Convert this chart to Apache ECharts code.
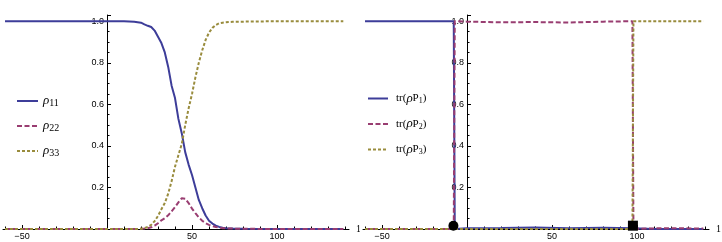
<!DOCTYPE html>
<html>
<head>
<meta charset="utf-8">
<script src="https://cdn.jsdelivr.net/npm/echarts@6/dist/echarts.min.js"></script>
<style>
  html, body { margin: 0; padding: 0; background: #fff; }
  #wrap { position: relative; width: 722px; height: 242px; overflow: hidden; background: #fff; }
  #left { position: absolute; left: 0; top: 0; width: 360px; height: 242px; overflow: hidden; }
  #right { position: absolute; left: 360px; top: 0; width: 362px; height: 242px; overflow: hidden; }
</style>
</head>
<body>
<div id="wrap"><div id="left"></div><div id="right"></div></div>
<script>
// ---------- Data ----------
const xLeft = [-60, -40, -20, 0, 10, 16, 20,
  22, 24, 26, 28, 30, 32, 34, 36, 38, 40, 42, 44, 46, 48, 50, 52, 54, 56, 58, 60, 62, 64, 66, 68, 70,
  74, 80, 100, 120, 139];
const rho11 = [1, 1, 1, 1, 1, 0.998, 0.993,
  0.985, 0.978, 0.972, 0.955, 0.925, 0.895, 0.85, 0.78, 0.69, 0.63, 0.53, 0.46, 0.37, 0.31, 0.26, 0.2, 0.14, 0.1, 0.065, 0.04, 0.026, 0.016, 0.01, 0.006, 0.004,
  0.002, 0.001, 0, 0, 0];
const rho22 = [0, 0, 0, 0, 0, 0, 0.001,
  0.002, 0.004, 0.008, 0.016, 0.028, 0.042, 0.052, 0.066, 0.085, 0.105, 0.128, 0.148, 0.146, 0.125, 0.098, 0.076, 0.056, 0.04, 0.028, 0.02, 0.014, 0.01, 0.007, 0.004, 0.003,
  0.002, 0.001, 0, 0, 0];
const rho33 = [0, 0, 0, 0, 0, 0, 0.001,
  0.004, 0.01, 0.02, 0.038, 0.063, 0.095, 0.125, 0.17, 0.23, 0.3, 0.355, 0.41, 0.5, 0.58, 0.65, 0.73, 0.8, 0.86, 0.91, 0.945, 0.968, 0.982, 0.99, 0.993, 0.995,
  0.997, 0.998, 1, 1, 1];

const xRight = [-60, -20, -7.8, -7.2, 0, 20, 40, 60, 80, 97.3, 97.9, 110, 125, 139];
const trP1 = [1, 1, 1, 0, 0.004, 0.005, 0.007, 0.004, 0.006, 0.004, 0, 0, 0, 0];
const trP2 = [0, 0, 0, 1, 0.998, 0.995, 0.996, 0.994, 0.998, 1, 0, 0.003, 0.004, 0.002];
const trP3 = [0, 0, 0, 0, 0, 0, 0, 0, 0, 0, 1, 1, 1, 1];

const markerX = [-8, 97.6];
const markerY = [0.016, 0.016];
const markerShapes = ['circle', 'rect'];

const namesLeft = ['ρ11', 'ρ22', 'ρ33'];
const namesRight = ['tr(ρP1)', 'tr(ρP2)', 'tr(ρP3)'];
const xAxisName = '1';

const xLabelTicks = [-50, 50, 100];
const xMajorTicks = [-50, 0, 50, 100];
const xMinorTicks = [-60, -40, -30, -20, -10, 10, 20, 30, 40, 60, 70, 80, 90, 110, 120, 130, 140];

// ---------- Styling ----------
const COLORS = ['#3d3d99', '#993d71', '#998c3d'];
const DASHES = ['solid', [5, 2.5], [3, 2]];
const SERIF = '"Liberation Serif", "DejaVu Serif", serif';
const SANS = '"Liberation Sans", Arial, sans-serif';
const X_MIN = -61.18, X_MAX = 142.35;

function zip(xs, ys) { return xs.map((x, i) => [x, ys[i]]); }

function axes() {
  return {
    xAxis: [{
      type: 'value', min: X_MIN, max: X_MAX, position: 'bottom',
      name: xAxisName, nameLocation: 'end', nameGap: 7,
      nameTextStyle: { fontFamily: SERIF, fontSize: 10, color: '#000', verticalAlign: 'middle' },
      axisLine: { show: true, onZero: false, lineStyle: { color: '#000', width: 1 } },
      axisTick: { show: true, inside: true, length: 4, customValues: xMajorTicks, lineStyle: { color: '#000' } },
      minorTick: { show: false },
      axisLabel: { show: true, margin: 3, customValues: xLabelTicks,
        fontFamily: SANS, fontSize: 9, color: '#000',
        formatter: v => String(v).replace('-', '\u2212') },
      splitLine: { show: false }
    }, {
      type: 'value', min: X_MIN, max: X_MAX, position: 'bottom',
      axisLine: { show: false, onZero: false },
      axisTick: { show: true, inside: true, length: 2.5, customValues: xMinorTicks, lineStyle: { color: '#000' } },
      axisLabel: { show: false },
      splitLine: { show: false }
    }],
    yAxis: {
      type: 'value', min: 0, max: 1.03, interval: 0.2, position: 'left', offset: -104,
      axisLine: { show: true, onZero: false, lineStyle: { color: '#000', width: 1 } },
      axisTick: { show: true, inside: true, length: 4, lineStyle: { color: '#000' } },
      minorTick: { show: true, splitNumber: 4, length: 2.5, lineStyle: { color: '#000' } },
      axisLabel: { show: true, showMaxLabel: false, margin: 3,
        fontFamily: SANS, fontSize: 9, color: '#000',
        formatter: v => (v === 0 ? '' : v.toFixed(1)) },
      splitLine: { show: false }, minorSplitLine: { show: false }
    }
  };
}

function lineSeries(name, xs, ys, i) {
  return {
    name: name, type: 'line', data: zip(xs, ys),
    symbol: 'none', clip: false, silent: true,
    lineStyle: { color: COLORS[i], width: 2, type: DASHES[i] },
    itemStyle: { color: COLORS[i] }
  };
}

const richBase = {
  r: { fontFamily: SERIF, fontStyle: 'italic', fontSize: 13, color: '#000', lineHeight: 14 },
  n: { fontFamily: SERIF, fontSize: 11, color: '#000', lineHeight: 14 },
  s: { fontFamily: SERIF, fontSize: 10, color: '#000', lineHeight: 14, padding: [4, 0, 0, 0] },
  ss: { fontFamily: SERIF, fontSize: 8, color: '#000', lineHeight: 14, padding: [5, 0, 0, 0] },
  n0: { fontFamily: SERIF, fontSize: 11, color: '#000', lineHeight: 14, padding: [0, 0, 0, 3] }
};
const hiddenSymbol = { color: 'rgba(0,0,0,0)', borderColor: 'rgba(0,0,0,0)', borderWidth: 0 };
const gridOpt = { left: 3, width: 346, top: 15, bottom: 13, containLabel: false, outerBoundsMode: 'none' };

// ---------- Left chart ----------
const leftChart = echarts.init(document.getElementById('left'), null, { renderer: 'canvas' });
const la = axes();
leftChart.setOption({
  animation: false,
  grid: gridOpt,
  xAxis: la.xAxis, yAxis: la.yAxis,
  legend: {
    orient: 'vertical', left: 11, top: 89, itemWidth: 21, itemHeight: 12, itemGap: 11,
    data: namesLeft, selectedMode: false, itemStyle: hiddenSymbol,
    formatter: name => '{r|ρ}{s|' + name.slice(1) + '}',
    textStyle: { rich: richBase }
  },
  series: [
    lineSeries(namesLeft[0], xLeft, rho11, 0),
    lineSeries(namesLeft[1], xLeft, rho22, 1),
    lineSeries(namesLeft[2], xLeft, rho33, 2)
  ]
});

// ---------- Right chart ----------
const rightChart = echarts.init(document.getElementById('right'), null, { renderer: 'canvas' });
const ra = axes();
rightChart.setOption({
  animation: false,
  grid: gridOpt,
  xAxis: ra.xAxis, yAxis: ra.yAxis,
  legend: {
    orient: 'vertical', left: 2, top: 87, itemWidth: 20, itemHeight: 12, itemGap: 12.5,
    data: namesRight, selectedMode: false, itemStyle: hiddenSymbol,
    formatter: name => '{n0|tr(}{r|ρ}{n|P}{ss|' + name.charAt(5) + '}{n|)}',
    textStyle: { rich: richBase }
  },
  series: [
    lineSeries(namesRight[0], xRight, trP1, 0),
    lineSeries(namesRight[1], xRight, trP2, 1),
    lineSeries(namesRight[2], xRight, trP3, 2),
    {
      name: 'markers', type: 'scatter', silent: true, clip: false, symbolSize: 10, z: 5,
      itemStyle: { color: '#000', opacity: 1, borderWidth: 0 },
      data: markerX.map((x, i) => ({ value: [x, markerY[i]], symbol: markerShapes[i] }))
    }
  ]
});
</script>
</body>
</html>
